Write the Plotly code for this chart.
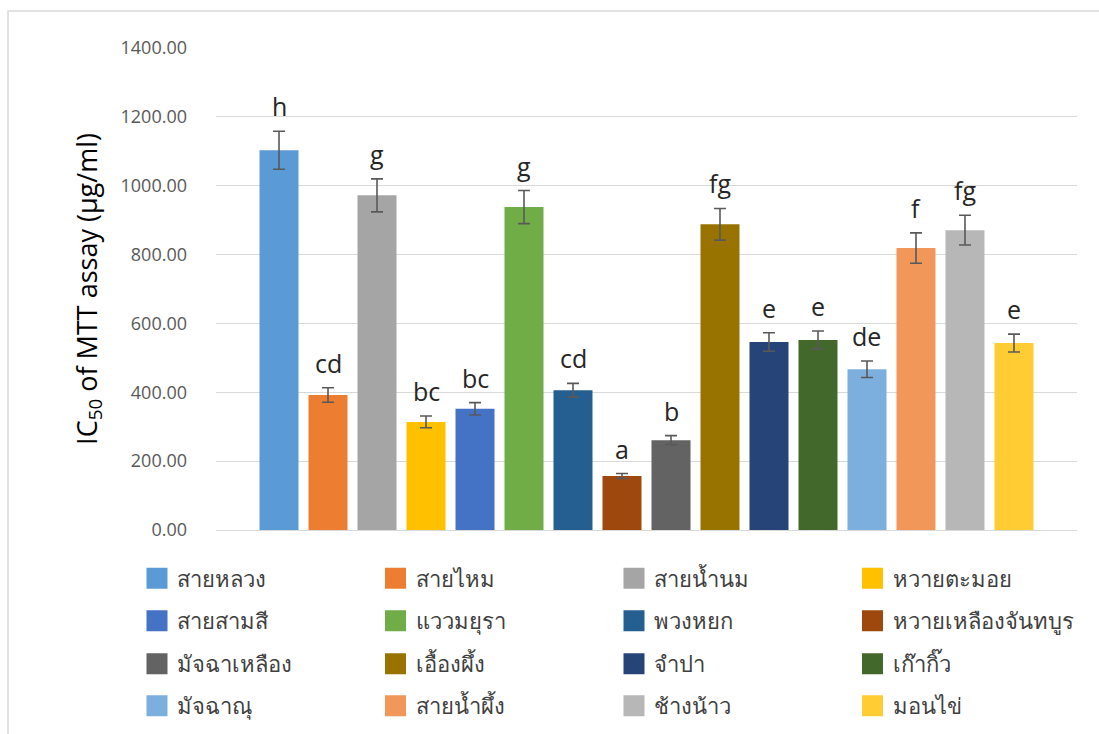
import plotly.graph_objects as go

# IC50 (MTT assay) per cultivar, with standard error and significance letters
cultivars = [
    "สายหลวง", "สายไหม", "สายน้ำนม", "หวายตะมอย",
    "สายสามสี", "แววมยุรา", "พวงหยก", "หวายเหลืองจันทบูร",
    "มัจฉาเหลือง", "เอื้องผึ้ง", "จำปา", "เก๊ากิ๊ว",
    "มัจฉาณุ", "สายน้ำผึ้ง", "ช้างน้าว", "มอนไข่",
]
ic50 = [1103, 392, 972, 314, 352, 938, 406, 157,
        261, 888, 546, 552, 467, 819, 871, 543]
sem = [55, 21, 48, 17, 18, 48, 20, 7,
       13, 46, 27, 26, 24, 44, 43, 26]
letters = ["h", "cd", "g", "bc", "bc", "g", "cd", "a",
           "b", "fg", "e", "e", "de", "f", "fg", "e"]
colors = [
    "#5B9BD5", "#ED7D31", "#A5A5A5", "#FFC000",
    "#4472C4", "#70AD47", "#255E91", "#9E480E",
    "#636363", "#997300", "#264478", "#43682B",
    "#7CAFDD", "#F1975A", "#B7B7B7", "#FFCD33",
]
y_ticks = [0, 200, 400, 600, 800, 1000, 1200, 1400]

W, H = 1099, 734
L, R, T, B = 216, 22, 48, 204
plot_h = H - T - B

GRID = "#D9D9D9"
FONT = "Open Sans, Segoe UI, Noto Sans, sans-serif"

fig = go.Figure()

for i, (name, v, e, c) in enumerate(zip(cultivars, ic50, sem, colors)):
    fig.add_trace(go.Bar(
        x=[i], y=[v], width=0.796, name=name,
        marker=dict(color=c, line=dict(width=0)),
        error_y=dict(type="data", array=[e], visible=True,
                     color="#595959", thickness=1.6, width=6),
        showlegend=False,
        hovertemplate=name + ": %{y:.2f}<extra></extra>",
    ))

# legend entries: four rows of four, each row its own legend
row_px = [578.5, 621, 664, 706]
legend_names = ["legend", "legend2", "legend3", "legend4"]
for i, (name, c) in enumerate(zip(cultivars, colors)):
    fig.add_trace(go.Scatter(
        x=[None], y=[None], mode="markers", name=name,
        marker=dict(symbol="square", size=16, color=c,
                    line=dict(width=5, color=c)),
        legend=legend_names[i // 4], hoverinfo="skip",
    ))

legend_x = (137 - L) / (W - L - R)
legend_layout = {}
for k, lname in enumerate(legend_names):
    legend_layout[lname] = dict(
        orientation="h", x=legend_x, xanchor="left",
        y=(H - B - row_px[k]) / plot_h, yanchor="middle",
        entrywidth=193.5, entrywidthmode="pixels",
        font=dict(family=FONT, size=22, color="#404040"),
        bgcolor="rgba(0,0,0,0)", borderwidth=0,
        itemclick=False, itemdoubleclick=False,
    )

for i, (v, e, t) in enumerate(zip(ic50, sem, letters)):
    fig.add_annotation(
        x=i, y=v + e, text=t, showarrow=False,
        yanchor="bottom", yshift=6,
        font=dict(family=FONT, size=25, color="#262626"),
    )

# light frame around the whole chart area
fig.add_shape(
    type="rect", xref="paper", yref="paper",
    x0=(8 - L) / (W - L - R), x1=1.2,
    y0=-0.6, y1=1 + (T - 11) / plot_h,
    line=dict(color=GRID, width=1.5), fillcolor="rgba(0,0,0,0)",
    layer="below",
)

fig.update_layout(
    width=W, height=H,
    margin=dict(l=L, r=R, t=T, b=B, autoexpand=False),
    paper_bgcolor="white", plot_bgcolor="white",
    barmode="overlay",
    showlegend=True,
    xaxis=dict(range=[-1.286, 16.286], showticklabels=False,
               showgrid=False, zeroline=False, showline=False,
               fixedrange=True),
    yaxis=dict(
        range=[0, 1400], tickvals=y_ticks, tickformat=".2f",
        showgrid=True, gridcolor=GRID, gridwidth=1.3,
        zeroline=True, zerolinecolor=GRID, zerolinewidth=1.3,
        showline=False, ticks="", ticklabelstandoff=28,
        tickfont=dict(family=FONT, size=18, color="#595959"),
        title=dict(text="IC<sub>50</sub> of MTT assay (µg/ml)",
                   font=dict(family=FONT, size=27, color="#000000"),
                   standoff=15),
        fixedrange=True,
    ),
    **legend_layout,
)

fig.write_html("out.html")
